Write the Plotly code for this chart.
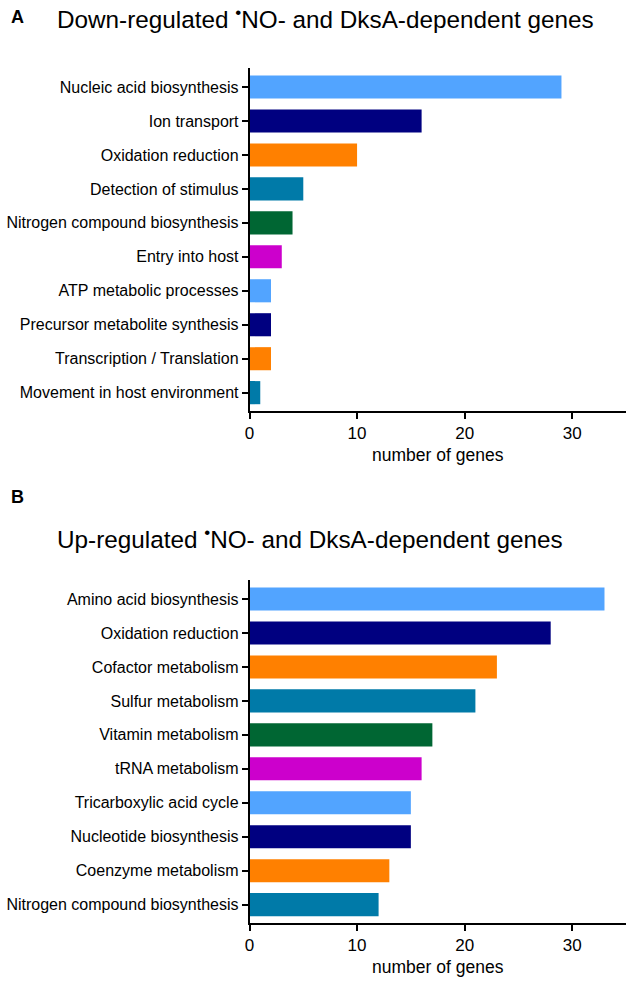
import plotly.graph_objects as go

cats_a = ["Nucleic acid biosynthesis", "Ion transport", "Oxidation reduction",
          "Detection of stimulus", "Nitrogen compound biosynthesis", "Entry into host",
          "ATP metabolic processes", "Precursor metabolite synthesis",
          "Transcription / Translation", "Movement in host environment"]
vals_a = [29, 16, 10, 5, 4, 3, 2, 2, 2, 1]

cats_b = ["Amino acid biosynthesis", "Oxidation reduction", "Cofactor metabolism",
          "Sulfur metabolism", "Vitamin metabolism", "tRNA metabolism",
          "Tricarboxylic acid cycle", "Nucleotide biosynthesis",
          "Coenzyme metabolism", "Nitrogen compound biosynthesis"]
vals_b = [33, 28, 23, 21, 17, 16, 15, 15, 13, 12]

palette = ["#52a4ff", "#000080", "#ff8000", "#007aa8", "#006633", "#cc00cc"]
colors = [palette[i] if i < 6 else palette[i - 6] for i in range(10)]

W, H = 630, 981
FONT = "Liberation Sans, Arial, sans-serif"

fig = go.Figure()
fig.add_trace(go.Bar(x=vals_a, y=cats_a, orientation="h", marker=dict(color=colors, line=dict(width=0)),
                     width=0.68, xaxis="x", yaxis="y", showlegend=False))
fig.add_trace(go.Bar(x=vals_b, y=cats_b, orientation="h", marker=dict(color=colors, line=dict(width=0)),
                     width=0.68, xaxis="x2", yaxis="y2", showlegend=False))

xdom = [249.5 / W, 626 / W]
ya = [1 - 411 / H, 1 - 68 / H]
yb = [1 - 923 / H, 1 - 580 / H]

xcommon = dict(range=[0, 35], tickvals=[0, 10, 20, 30], showline=True, linecolor="black", linewidth=1.5,
               ticks="outside", ticklen=6, tickwidth=1.5, tickcolor="black", showgrid=False, zeroline=False,
               automargin=False,
               tickfont=dict(size=17, color="black", family=FONT),
               title=dict(text="number of genes", font=dict(size=17.5, color="black", family=FONT), standoff=7))
ycommon = dict(range=[9.54, -0.56], showline=True, linecolor="black", linewidth=1.5, ticks="outside",
               ticklen=6, tickwidth=1.5, tickcolor="black", showgrid=False, zeroline=False,
               automargin=False,
               tickfont=dict(size=16, color="black", family=FONT), ticklabelstandoff=0)

fig.update_layout(
    width=W, height=H, margin=dict(l=0, r=0, t=0, b=0),
    paper_bgcolor="white", plot_bgcolor="white",
    xaxis=dict(domain=xdom, anchor="y", **xcommon),
    yaxis=dict(domain=ya, anchor="x", **ycommon),
    xaxis2=dict(domain=xdom, anchor="y2", **xcommon),
    yaxis2=dict(domain=yb, anchor="x2", **ycommon),
    font=dict(family=FONT, color="black"),
    annotations=[
        dict(text="<b>A</b>", x=9 / W, y=1 - 17 / H, xref="paper", yref="paper", xanchor="left", yanchor="middle",
             showarrow=False, font=dict(size=18, color="black")),
        dict(text="Down-regulated <sup>•</sup>NO- and DksA-dependent genes", x=55 / W, y=1 - 18 / H,
             xref="paper", yref="paper", xanchor="left", yanchor="middle", showarrow=False,
             font=dict(size=24.3, color="black")),
        dict(text="<b>B</b>", x=9 / W, y=1 - 497 / H, xref="paper", yref="paper", xanchor="left", yanchor="middle",
             showarrow=False, font=dict(size=18, color="black")),
        dict(text="Up-regulated <sup>•</sup>NO- and DksA-dependent genes", x=55 / W, y=1 - 538 / H,
             xref="paper", yref="paper", xanchor="left", yanchor="middle", showarrow=False,
             font=dict(size=24.3, color="black")),
    ],
)

fig.write_html("out.html", config={"displayModeBar": False},
               post_script="document.body.style.margin='0';document.body.style.overflow='hidden';")
